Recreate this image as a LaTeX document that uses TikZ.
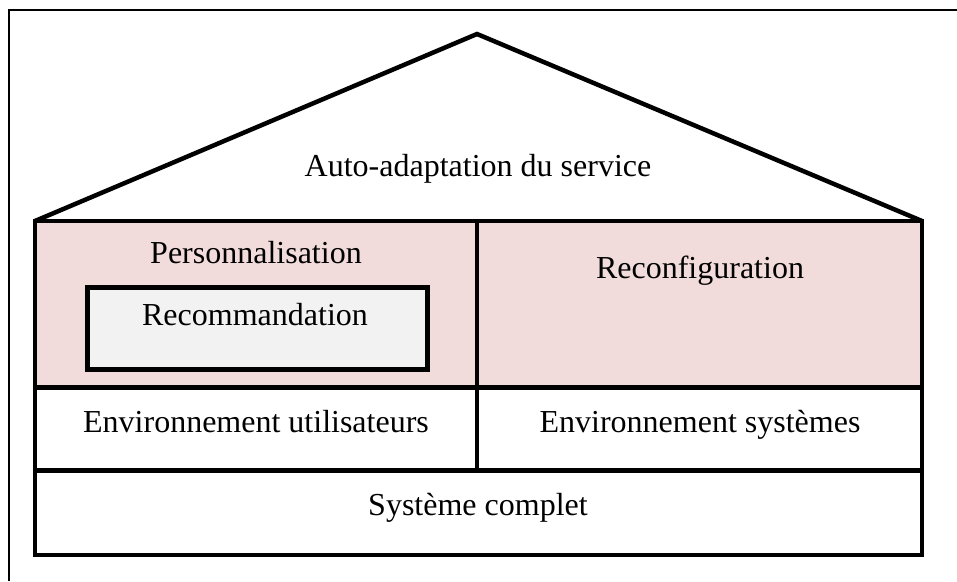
\documentclass[tikz,border=0pt]{standalone}
\usepackage{fontspec}
\setmainfont{Liberation Serif}
\usetikzlibrary{positioning}
\definecolor{roseclair}{HTML}{F2DCDB}
\definecolor{grisclair}{HTML}{F2F2F2}

\begin{document}
\begin{tikzpicture}[x=1pt, y=-1pt,
    mur/.style={line width=4.5pt, line join=miter}, % thick walls of the house
    etiquette/.style={font=\fontsize{32}{38}\selectfont, inner sep=0pt, anchor=base}
   ]
    \useasboundingbox (0,0) rectangle (957,581);
    % frame (only top and left visible)
    \draw[line width=2pt] (957,10) -- (9,10) -- (9,581);
    % corners of the house
    \coordinate (toit) at (477,34);
    \coordinate (hg) at (35,221);
    \coordinate (hd) at (922,221);
    \coordinate (bd) at (922,555);
    \fill[roseclair] (hg) rectangle (922,387.5);
    \draw[mur] (hg) -- (toit) -- (hd);
    \draw[mur] (hg) rectangle (bd);
    \draw[mur] (35,387.5) -- (922,387.5);
    \draw[mur] (35,470.5) -- (922,470.5);
    \draw[mur] (477,221) -- (477,470.5);
    % labels (positions at baselines)
    \node[etiquette] (service) at (478,176) {Auto-adaptation du service};
    \node[etiquette] (perso) at (256,263) {Personnalisation};
    \node[draw, line width=4.5pt, fill=grisclair, minimum width=340pt,
          minimum height=82pt, anchor=north west] (reco) at (85,285) {};
    \node[etiquette] (recotxt) at (255,325) {Recommandation};
    \node[etiquette] (reconf) at (700,278) {Reconfiguration};
    \node[etiquette] (envu) at (256,432) {Environnement utilisateurs};
    \node[etiquette] (envs) at (700,432) {Environnement systèmes};
    \node[etiquette] (systeme) at (478,515) {Système complet};
\end{tikzpicture}
\end{document}
